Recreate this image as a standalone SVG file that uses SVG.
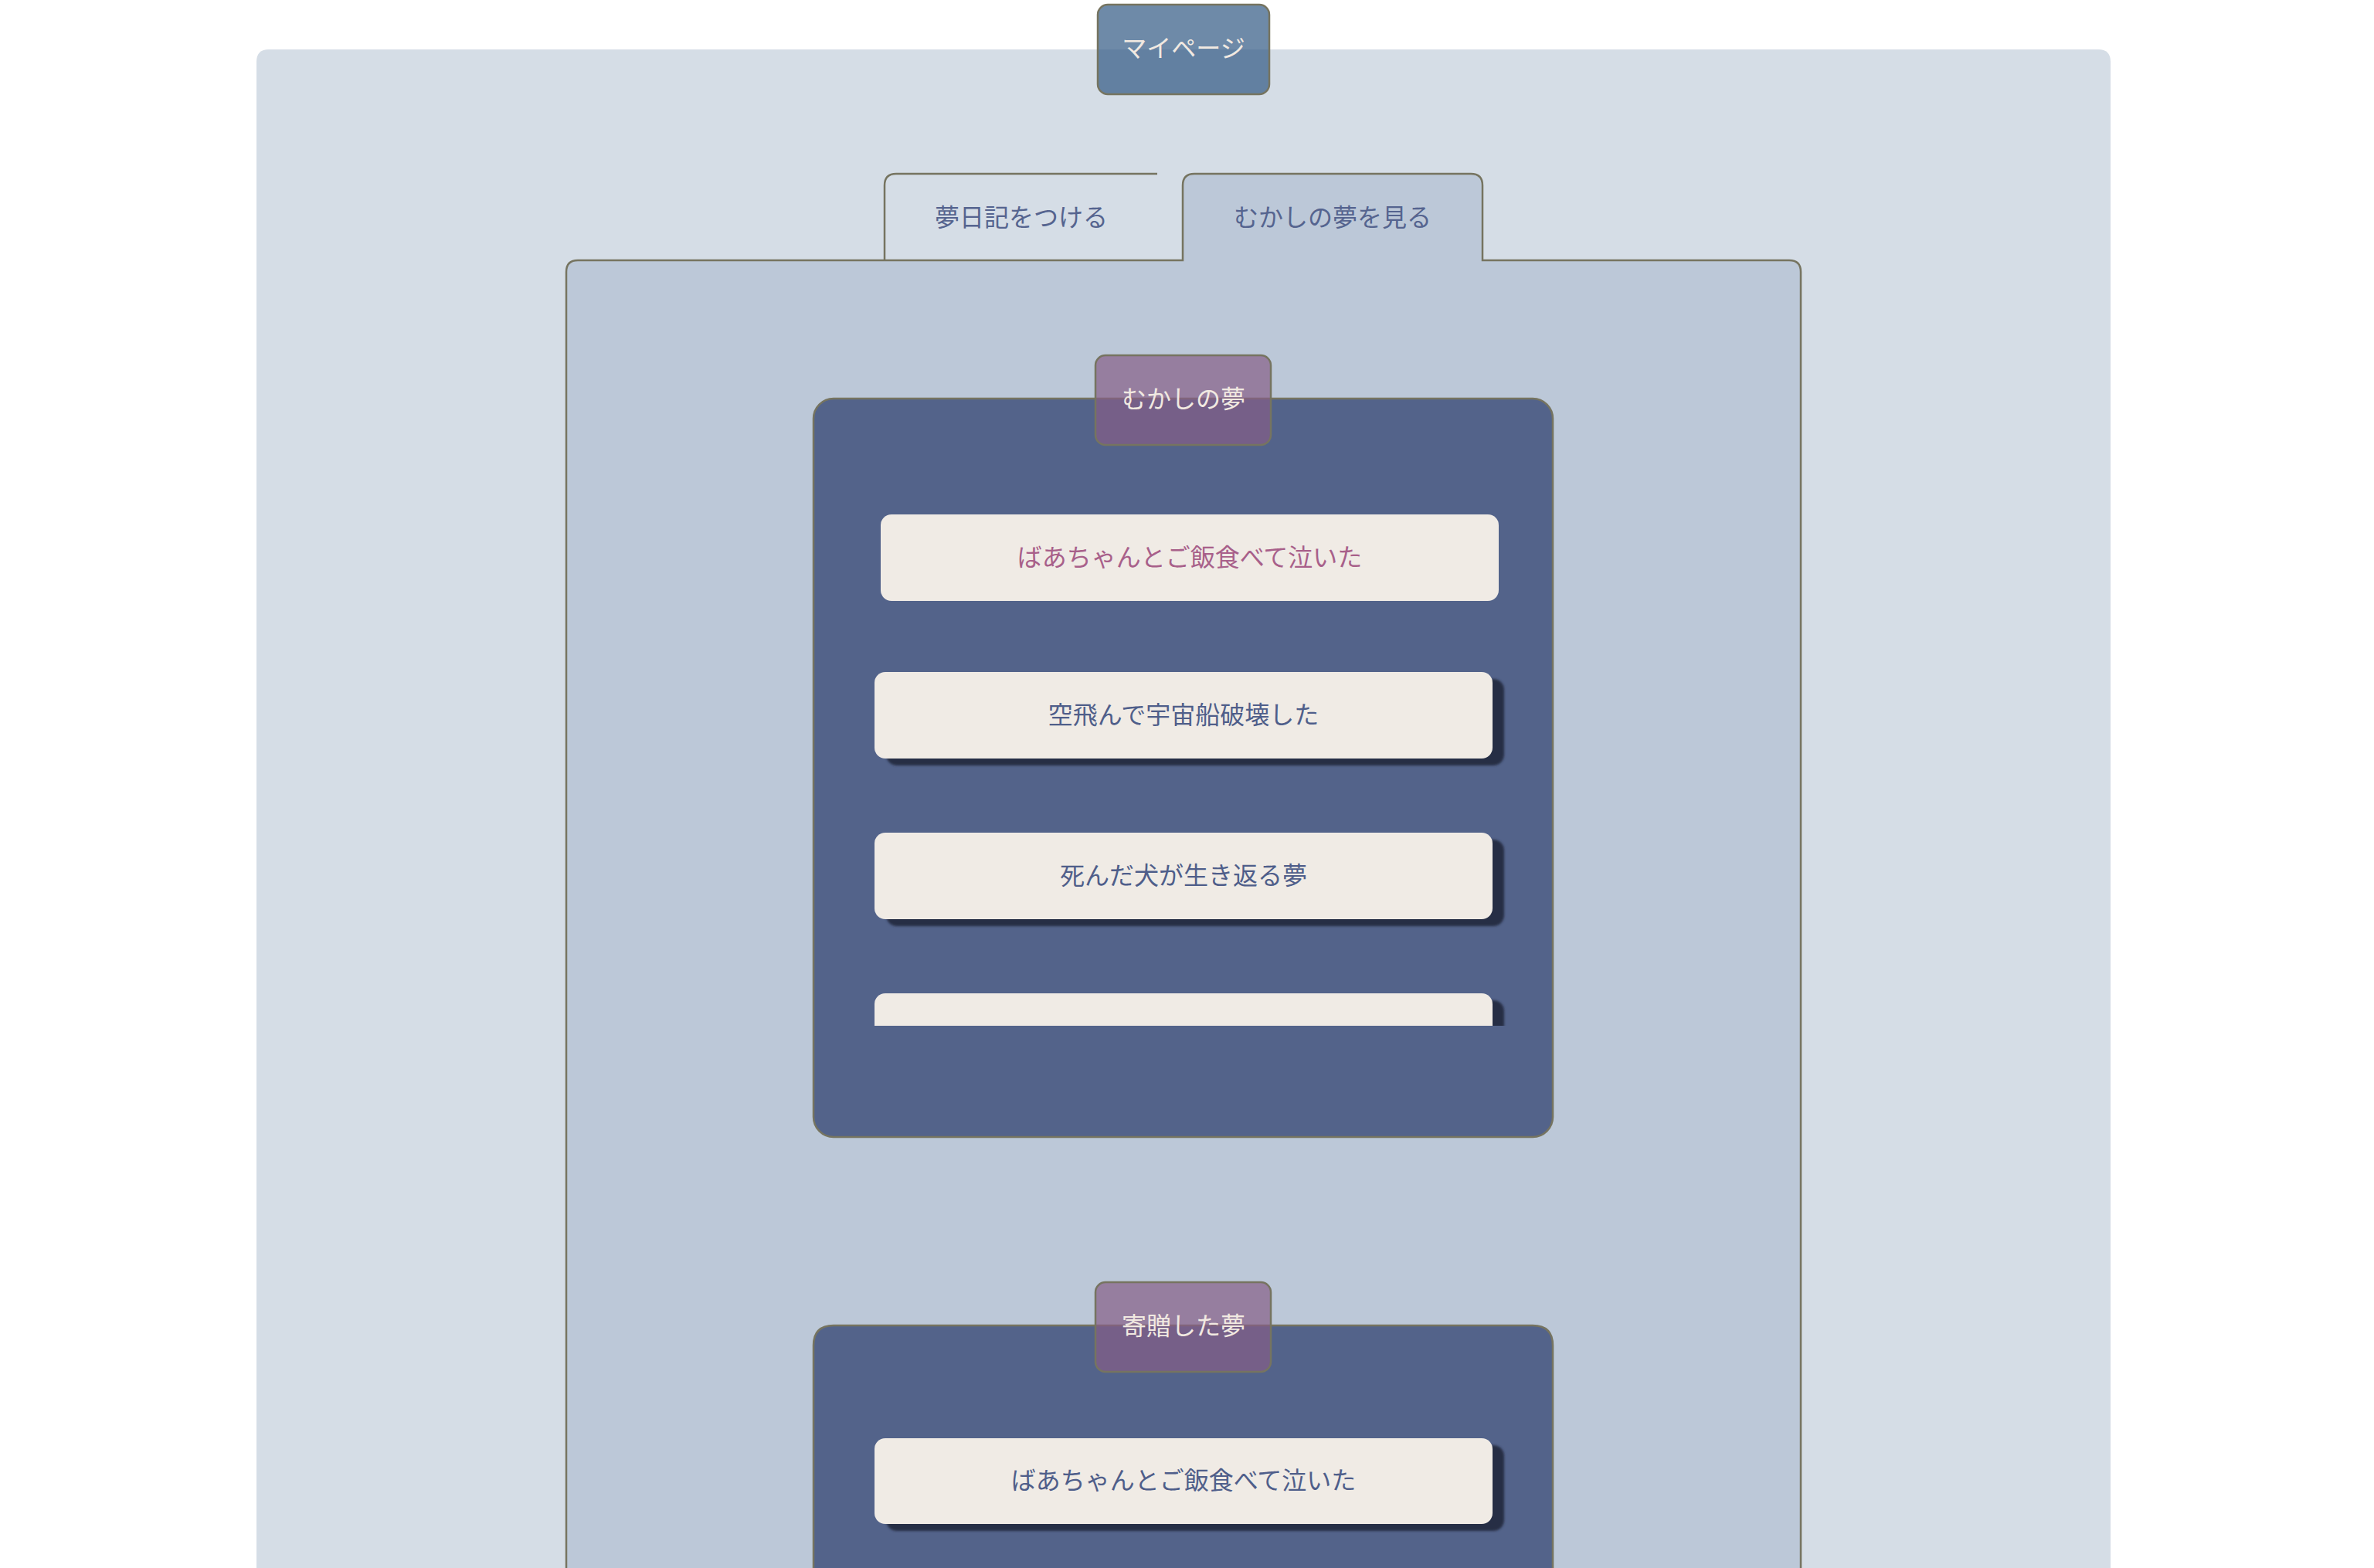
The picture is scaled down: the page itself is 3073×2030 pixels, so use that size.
<svg xmlns="http://www.w3.org/2000/svg" width="3073" height="2030" viewBox="0 0 3073 2030">
<style>
text{font-family:"Noto Sans CJK JP","Noto Sans",sans-serif;font-size:32px;text-anchor:middle;dominant-baseline:central}
.edge{fill:none;stroke:#767460;stroke-width:2.5}
.tabtxt{fill:#55648f}
.lbl{fill:#f1e9e1}
.item{fill:#f0ebe5}
.itemtxt{fill:#4f5e8a}
.shadow{fill:#262e45;filter:url(#blur)}
.panel{fill:#53638a;stroke:#767460;stroke-width:2.5}
.tag{fill:#865e88;fill-opacity:0.7;stroke:#767460;stroke-width:2.5}
</style>
<defs>
<filter id="blur" x="-5%" y="-20%" width="110%" height="140%"><feGaussianBlur stdDeviation="1.5"/></filter>
<clipPath id="clip1"><rect x="1060" y="520" width="950" height="808"/></clipPath>
</defs>
<rect width="3073" height="2030" fill="#ffffff"/>

<g id="page">
<path d="M332,2030 V80 Q332,64 348,64 H2716 Q2732,64 2732,80 V2030 Z" fill="#d5dde6"/>
</g>

<g id="mypage">
<rect x="1421" y="6" width="222" height="116" rx="13" fill="#305883" fill-opacity="0.7" stroke="#767460" stroke-width="2.5"/>
<text class="lbl" x="1532" y="60">マイページ</text>
</g>

<g id="content-panel">
<path d="M733,2030 V352 Q733,337 748,337 H1531 V240 Q1531,225 1546,225 H1904 Q1919,225 1919,240 V337 H2316 Q2331,337 2331,352 V2030 Z" fill="#bcc8d8"/>
<path class="edge" d="M733,2030 V352 Q733,337 748,337 H1531 V240 Q1531,225 1546,225 H1904 Q1919,225 1919,240 V337 H2316 Q2331,337 2331,352 V2030"/>
</g>

<g id="tab-diary">
<path class="edge" d="M1145,337 V240 Q1145,225 1160,225 H1498"/>
<text class="tabtxt" x="1322" y="279">夢日記をつける</text>
</g>

<g id="tab-past">
<text class="tabtxt" x="1725" y="279">むかしの夢を見る</text>
</g>

<g id="past-dreams">
<rect class="panel" x="1053" y="516" width="957" height="956" rx="26"/>
<g id="past-item-1">
<rect class="item" x="1140" y="666" width="800" height="112" rx="14"/>
<text x="1540" y="719" fill="#a8608a">ばあちゃんとご飯食べて泣いた</text>
</g>
<g id="past-item-2">
<rect class="shadow" x="1147" y="879" width="800" height="112" rx="14"/>
<rect class="item" x="1132" y="870" width="800" height="112" rx="14"/>
<text class="itemtxt" x="1532" y="923">空飛んで宇宙船破壊した</text>
</g>
<g id="past-item-3">
<rect class="shadow" x="1147" y="1087" width="800" height="112" rx="14"/>
<rect class="item" x="1132" y="1078" width="800" height="112" rx="14"/>
<text class="itemtxt" x="1532" y="1131">死んだ犬が生き返る夢</text>
</g>
<g id="past-item-4" clip-path="url(#clip1)">
<rect class="shadow" x="1147" y="1295" width="800" height="112" rx="14"/>
<rect class="item" x="1132" y="1286" width="800" height="112" rx="14"/>
</g>
<g id="past-label">
<rect class="tag" x="1418" y="460" width="227" height="116" rx="13"/>
<text class="lbl" x="1532" y="514">むかしの夢</text>
</g>
</g>

<g id="gift-dreams">
<path class="panel" d="M1053,2040 V1742 Q1053,1716 1079,1716 H1984 Q2010,1716 2010,1742 V2040"/>
<g id="gift-item-1">
<rect class="shadow" x="1147" y="1871" width="800" height="111" rx="14"/>
<rect class="item" x="1132" y="1862" width="800" height="111" rx="14"/>
<text class="itemtxt" x="1532" y="1914">ばあちゃんとご飯食べて泣いた</text>
</g>
<g id="gift-label">
<rect class="tag" x="1418" y="1660" width="227" height="116" rx="13"/>
<text class="lbl" x="1532" y="1714">寄贈した夢</text>
</g>
</g>

<g id="connectors"/>
</svg>
